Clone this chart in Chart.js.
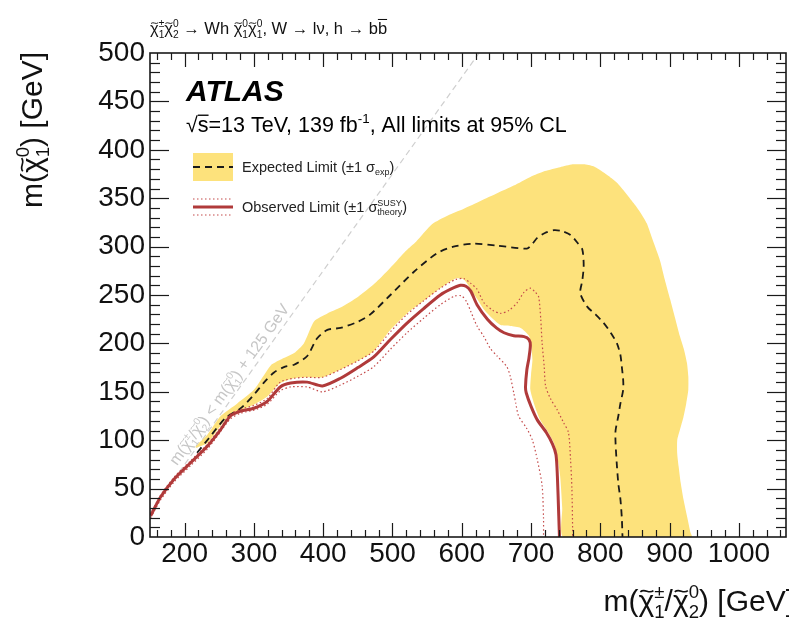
<!DOCTYPE html>
<html><head><meta charset="utf-8">
<script src="https://cdn.jsdelivr.net/npm/chart.js@4/dist/chart.umd.min.js"></script>
<style>html,body{margin:0;padding:0;background:#fff;}canvas{display:block;}</style>
</head><body>
<canvas id="c" width="789" height="620"></canvas>
<script>
// ---- data ----
const xTickValues = [200, 300, 400, 500, 600, 700, 800, 900, 1000];
const yTickValues = [0, 50, 100, 150, 200, 250, 300, 350, 400, 450, 500];

// expected limit +/-1 sigma band: outer edge, then inner edge (closed contour)
const expectedBandUpper = [[216,94],[233,106],[252,125],[276,138],[300,152],[324,177],[338,183],[358,190],[372,200],[387,223],[406,231],[425,237],[450,248],[473,261],[490,273],[507,286],[520,296],[534,305],[557,323],[580,332],[603,339],[627,347],[651,355],[675,363],[699,372],[720,378],[742,382],[760,385],[776,385],[790,383],[800,379],[812,373],[824,366],[836,356],[848,345],[858,335],[867,324],[876,306],[886,286],[893,266],[901,245],[908,226],[915,207],[921,193],[925,180],[927,166],[927,152],[924,138],[920,124],[915,111],[911,100],[911,86],[913,73],[916,56],[920,39],[925,22],[930,5],[932,0]];
const expectedBandLower = [[747,0],[745,30],[742,63],[738,82],[733,97],[724,109],[713,121],[705,136],[699,152],[700,168],[702,183],[700,198],[697,208],[685,216],[670,218],[656,219],[644,226],[632,235],[622,246],[613,256],[603,266],[591,267],[569,257],[545,244],[521,231],[497,214],[473,192],[450,182],[425,173],[399,165],[378,165],[358,164],[338,159],[319,145],[295,135],[280,131],[266,127],[250,113],[233,97],[216,92]];
const expectedLimit = [[218,87],[235,102],[259,123],[281,133],[300,147],[315,160],[329,170],[345,176],[358,178],[377,187],[391,205],[406,214],[425,216],[449,222],[468,230],[497,250],[531,274],[564,293],[588,300],[617,303],[651,301],[694,298],[702,303],[709,309],[720,314],[733,317],[745,316],[757,312],[767,304],[774,297],[776,280],[774,265],[771,252],[781,238],[793,230],[805,221],[815,211],[824,200],[829,188],[831,176],[833,162],[833,152],[829,138],[826,125],[822,110],[822,97],[824,73],[826,55],[829,39],[831,20],[832,0]];
const observedLimit = [[151,22],[165,41],[185,60],[209,77],[233,94],[252,111],[266,125],[281,130],[300,133],[319,140],[338,155],[353,159],[377,160],[399,156],[425,164],[450,175],[473,186],[497,204],[521,221],[545,236],[569,250],[584,256],[598,260],[606,259],[613,254],[622,240],[637,225],[650,216],[661,211],[675,208],[690,207],[697,204],[699,198],[697,185],[694,173],[692,155],[693,149],[700,135],[709,121],[722,108],[731,96],[736,85],[738,63],[740,22],[741,0]];
const observedUp = [[151,24],[165,43],[185,62],[209,79],[233,96],[252,113],[266,127],[281,132],[300,136],[319,143],[338,160],[358,164],[377,165],[399,165],[425,173],[450,182],[473,192],[497,212],[521,230],[545,244],[569,257],[591,266],[603,267],[613,262],[622,256],[632,242],[645,234],[656,231],[668,234],[680,242],[690,253],[699,257],[706,253],[711,248],[714,225],[716,200],[719,176],[721,156],[728,143],[738,131],[747,118],[754,108],[757,80],[759,50],[760,8],[760,0]];
const observedDown = [[151,20],[165,38],[185,57],[209,74],[233,91],[252,109],[266,122],[281,128],[300,131],[319,137],[338,151],[353,155],[377,155],[399,150],[425,157],[450,166],[473,176],[497,194],[521,211],[545,226],[569,240],[590,249],[600,249],[607,243],[613,233],[622,218],[632,207],[641,195],[651,187],[665,176],[670,166],[675,149],[678,138],[682,125],[694,112],[702,100],[709,80],[716,53],[718,20],[718,0]];
const kinematicLimit = [[150,25],[625,500]];

// ---- helpers ----
const FONT = "'Liberation Sans', Arial, Helvetica, sans-serif";
const pts = a => a.map(([x, y]) => ({x, y}));

function drawRich(ctx, parts, x, y, size, align, color) {
  const small = size * 0.62;
  const f = s => s + 'px ' + FONT;
  const items = parts.map(p => typeof p === 'string' ? {t: p} : p);
  let total = 0;
  const widths = items.map(it => {
    ctx.font = f(size);
    const w = it.t ? ctx.measureText(it.t).width : 0;
    ctx.font = f(small);
    const ws = Math.max(it.sup ? ctx.measureText(it.sup).width : 0, it.sub ? ctx.measureText(it.sub).width : 0);
    total += w + ws;
    return [w, w + ws];
  });
  let cx = align === 'right' ? x - total : (align === 'center' ? x - total / 2 : x);
  ctx.fillStyle = color; ctx.strokeStyle = color;
  ctx.textAlign = 'left'; ctx.textBaseline = 'alphabetic';
  items.forEach((it, i) => {
    const [w, ww] = widths[i];
    if (it.t) {
      ctx.font = f(size);
      ctx.fillText(it.t, cx, y);
      if (it.bar) {
        const by = y - size * (it.barH || 0.85);
        ctx.lineWidth = Math.max(1, size / 16);
        ctx.beginPath(); ctx.moveTo(cx + (it.barFrom || 0), by); ctx.lineTo(cx + w, by); ctx.stroke();
      }
      if (it.tilde) {
        // tilde over the last glyph
        const gw = ctx.measureText(it.tilde).width;
        const x0 = cx + w - gw + gw * 0.12, x1 = cx + w - gw * 0.05;
        const ty = y - size * 0.66, amp = size * 0.07;
        ctx.lineWidth = Math.max(0.8, size / 18);
        ctx.beginPath(); ctx.moveTo(x0, ty + amp * 0.3);
        ctx.bezierCurveTo(x0 + (x1 - x0) * 0.35, ty - amp * 1.6, x0 + (x1 - x0) * 0.65, ty + amp * 1.6, x1, ty - amp * 0.3);
        ctx.stroke();
      }
    }
    ctx.font = f(small);
    if (it.sup) ctx.fillText(it.sup, cx + w, y - size * 0.42);
    if (it.sub) ctx.fillText(it.sub, cx + w, y + size * 0.24);
    cx += ww;
  });
  return total;
}
const chi = (pre, sup, sub) => ({t: pre + 'χ', tilde: 'χ', sup, sub});

const decor = {
  id: 'decor',
  afterDraw(chart) {
    const {ctx, chartArea: a, scales: {x, y}} = chart;
    ctx.save();
    // ticks (inward) on all four sides
    ctx.strokeStyle = '#1a1a1a'; ctx.lineWidth = 1.2;
    const seg = (x1, y1, x2, y2) => { ctx.beginPath(); ctx.moveTo(x1, y1); ctx.lineTo(x2, y2); ctx.stroke(); };
    for (let v = 160; v <= x.max; v += 20) {
      const px = Math.round(x.getPixelForValue(v)) + 0.5;
      const len = v % 100 === 0 ? 14 : 7;
      seg(px, a.bottom, px, a.bottom - len);
      seg(px, a.top, px, a.top + len);
    }
    for (let v = 10; v < 500; v += 10) {
      const py = Math.round(y.getPixelForValue(v)) + 0.5;
      const len = v % 50 === 0 ? 19 : 10;
      seg(a.left, py, a.left + len, py);
      seg(a.right, py, a.right - len, py);
    }
    ctx.lineWidth = 1.6;
    ctx.strokeRect(a.left, a.top, a.right - a.left, a.bottom - a.top);

    // process label above the frame
    drawRich(ctx, [chi('', '±', '1'), chi('', '0', '2'), ' → Wh ',
      chi('', '0', '1'), chi('', '0', '1'), ', W → lν, h → b', {t: 'b', bar: true, barH: 0.88}],
      150, 34, 16.5, 'left', '#111');

    // ATLAS label
    ctx.font = 'italic bold 30px ' + FONT;
    ctx.fillStyle = '#000'; ctx.textAlign = 'left'; ctx.textBaseline = 'alphabetic';
    ctx.fillText('ATLAS', 186, 101);
    drawRich(ctx, ['√', {t: 's', bar: true, barH: 0.78}, '=13 TeV, 139 fb', {sup: '-1'}, ', All limits at 95% CL'],
      186, 132, 21.5, 'left', '#000');

    // legend
    ctx.fillStyle = '#fde27c'; ctx.fillRect(193, 153, 40, 28);
    ctx.strokeStyle = '#1a1a1a'; ctx.lineWidth = 1.8; ctx.setLineDash([7, 5]);
    seg(193, 167, 233, 167);
    ctx.setLineDash([]);
    drawRich(ctx, ['Expected Limit (±1 ', {t: 'σ', sub: 'exp'}, ')'], 242, 172, 14.5, 'left', '#222');
    ctx.strokeStyle = '#b03a3a'; ctx.lineWidth = 3; seg(193, 207, 233, 207);
    ctx.strokeStyle = '#c44a4a'; ctx.lineWidth = 1.2; ctx.setLineDash([1.5, 2.5]);
    seg(193, 199, 233, 199); seg(193, 215, 233, 215);
    ctx.setLineDash([]);
    drawRich(ctx, ['Observed Limit (±1 ', {t: 'σ', sup: 'SUSY', sub: 'theory'}, ')'], 242, 212, 14.5, 'left', '#222');

    // kinematic limit label, along the diagonal
    const p0x = x.getPixelForValue(kinematicLimit[0][0]), p0y = y.getPixelForValue(kinematicLimit[0][1]);
    const p1x = x.getPixelForValue(kinematicLimit[1][0]), p1y = y.getPixelForValue(kinematicLimit[1][1]);
    const ang = Math.atan2(p1y - p0y, p1x - p0x);
    const sx = x.getPixelForValue(195), sy = y.getPixelForValue(195 - 125);
    ctx.save();
    ctx.translate(sx, sy); ctx.rotate(ang);
    drawRich(ctx, [chi('m(', '±', '1'), '/', chi('', '0', '2'), ') < m(',
      chi('', '0', '1'), ') + 125 GeV'], 0, -5, 16, 'left', '#c6c6c6');
    ctx.restore();

    // axis titles
    drawRich(ctx, [chi('m(', '±', '1'), '/', chi('', '0', '2'), ') [GeV]'],
      794, 611, 30, 'right', '#111');
    ctx.save();
    ctx.translate(42, 52); ctx.rotate(-Math.PI / 2);
    drawRich(ctx, [chi('m(', '0', '1'), ') [GeV]'], 0, 0, 30, 'right', '#111');
    ctx.restore();
    ctx.restore();
  }
};

Chart.defaults.font.family = FONT;
new Chart(document.getElementById('c'), {
  type: 'scatter',
  data: {
    datasets: [
      {label: 'Observed', data: pts(observedLimit), showLine: true, borderColor: '#b03a3a', borderWidth: 3, pointRadius: 0, tension: 0.25, fill: false},
      {label: 'Observed +1σ', data: pts(observedUp), showLine: true, borderColor: '#c44a4a', borderWidth: 1.2, borderDash: [1.5, 2.5], pointRadius: 0, tension: 0.25, fill: false},
      {label: 'Observed -1σ', data: pts(observedDown), showLine: true, borderColor: '#c44a4a', borderWidth: 1.2, borderDash: [1.5, 2.5], pointRadius: 0, tension: 0.25, fill: false},
      {label: 'Expected', data: pts(expectedLimit), showLine: true, borderColor: '#1a1a1a', borderWidth: 1.8, borderDash: [7, 5], pointRadius: 0, tension: 0.25, fill: false},
      {label: 'Expected ±1σ', data: pts(expectedBandUpper.concat(expectedBandLower)), showLine: true, borderWidth: 0, borderColor: 'rgba(0,0,0,0)', backgroundColor: '#fde27c', pointRadius: 0, tension: 0.2, fill: 'shape'},
      {label: 'Kinematic limit', data: pts(kinematicLimit), showLine: true, borderColor: '#cfcfcf', borderWidth: 1.2, borderDash: [6, 4], pointRadius: 0, fill: false}
    ]
  },
  options: {
    responsive: false,
    animation: false,
    layout: {padding: {left: 0, right: 3, top: 53, bottom: 0}},
    plugins: {legend: {display: false}, tooltip: {enabled: false}, title: {display: false}},
    scales: {
      x: {
        type: 'linear', min: 150, max: 1068,
        afterBuildTicks: s => { s.ticks = xTickValues.map(v => ({value: v})); },
        afterFit: s => { s.height = 83; },
        grid: {display: false, drawTicks: false}, border: {display: false},
        ticks: {font: {size: 28}, color: '#111', padding: 0, maxRotation: 0, autoSkip: false, callback: v => String(v)}
      },
      y: {
        type: 'linear', min: 0, max: 500,
        afterBuildTicks: s => { s.ticks = yTickValues.map(v => ({value: v})); },
        afterFit: s => { s.width = 150; },
        grid: {display: false, drawTicks: false}, border: {display: false},
        ticks: {font: {size: 28}, color: '#111', padding: 5, autoSkip: false, callback: v => String(v)}
      }
    }
  },
  plugins: [decor]
});
</script>
</body></html>
